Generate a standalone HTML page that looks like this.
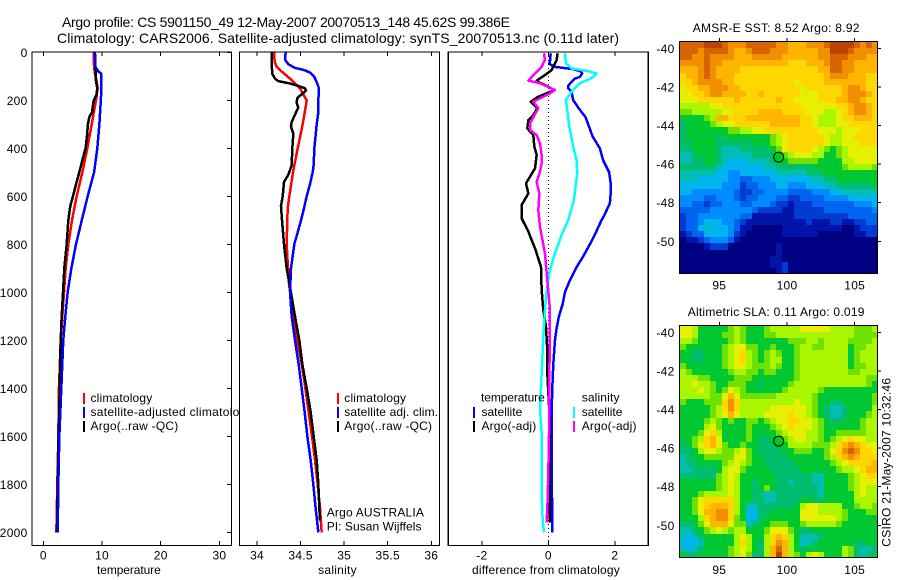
<!DOCTYPE html>
<html lang="en">
<head>
<meta charset="utf-8">
<title>Argo profile</title>
<style>
html,body{margin:0;padding:0;background:#fff;width:900px;height:580px;overflow:hidden}
svg{display:block}
text{font-family:"Liberation Sans",Arial,sans-serif;font-size:12px;letter-spacing:.25px;fill:#000}
.frame{fill:#fff;stroke:#000;stroke-width:1.3;shape-rendering:crispEdges}
.mapframe{fill:none;stroke:#000;stroke-width:1;shape-rendering:crispEdges}
</style>
</head>
<body>
<svg id="chart" xmlns="http://www.w3.org/2000/svg" width="900" height="580" viewBox="0 0 900 580">
  <text x="62" y="27" style="font-size:14px;letter-spacing:0" textLength="448" lengthAdjust="spacing">Argo profile: CS 5901150_49 12-May-2007 20070513_148 45.62S 99.386E</text>
  <text x="57" y="43" style="font-size:14px;letter-spacing:0" textLength="562" lengthAdjust="spacing">Climatology: CARS2006. Satellite-adjusted climatology: synTS_20070513.nc (0.11d later)</text>

  <g>
    <rect class="frame" x="32" y="52" width="199.5" height="493.5"/>
    <g id="p1-ticks"></g>
    <g id="p1-marks"></g>
    <g>
      <rect x="83" y="393" width="2" height="11" fill="#f00"/>
      <text x="90.5" y="402" textLength="62" lengthAdjust="spacing">climatology</text>
      <rect x="83" y="407" width="2" height="11" fill="#00f"/>
      <text x="90.5" y="416" style="letter-spacing:.3px">satellite-adjusted climatology</text>
      <rect x="83" y="421" width="2" height="11" fill="#000"/>
      <text x="90.5" y="430" textLength="88" lengthAdjust="spacing">Argo(..raw -QC)</text>
    </g>
    <text x="97" y="574" textLength="64" lengthAdjust="spacing">temperature</text>
  </g>

  <g>
    <rect class="frame" x="239.5" y="52" width="200" height="493.5"/>
    <g id="p2-ticks"></g>
    <g id="p2-marks"></g>
    <g>
      <rect x="337" y="393" width="2" height="11" fill="#f00"/>
      <text x="344.3" y="402" textLength="62" lengthAdjust="spacing">climatology</text>
      <rect x="337" y="407" width="2" height="11" fill="#00f"/>
      <text x="344.3" y="416" textLength="94" lengthAdjust="spacing">satellite adj. clim.</text>
      <rect x="337" y="421" width="2" height="11" fill="#000"/>
      <text x="344.3" y="430" textLength="88" lengthAdjust="spacing">Argo(..raw -QC)</text>
    </g>
    <text x="326.7" y="516.7" textLength="97.5" lengthAdjust="spacing">Argo AUSTRALIA</text>
    <text x="326.7" y="530.7" textLength="95" lengthAdjust="spacing">PI: Susan Wijffels</text>
    <text x="337.5" y="574" text-anchor="middle">salinity</text>
  </g>

  <g>
    <rect class="frame" x="448.3" y="52" width="200" height="493.5"/>
    <g id="p3-ticks"></g>
    <line x1="548.5" y1="52" x2="548.5" y2="545" stroke="#000" stroke-width="1" stroke-dasharray="1 3" shape-rendering="crispEdges"/>
    <g id="p3-marks"></g>
    <g>
      <text x="481" y="401.7" textLength="64" lengthAdjust="spacing">temperature</text>
      <rect x="473" y="407" width="2" height="11" fill="#00f"/>
      <text x="481.5" y="416" textLength="41" lengthAdjust="spacing">satellite</text>
      <rect x="473" y="421" width="2" height="11" fill="#000"/>
      <text x="481.5" y="430" textLength="55" lengthAdjust="spacing">Argo(-adj)</text>
      <text x="581.7" y="401.7" textLength="38" lengthAdjust="spacing">salinity</text>
      <rect x="573" y="407" width="2" height="11" fill="#0ff"/>
      <text x="581.7" y="416" textLength="41" lengthAdjust="spacing">satellite</text>
      <rect x="573" y="421" width="2" height="11" fill="#f0f"/>
      <text x="581.7" y="430" textLength="55" lengthAdjust="spacing">Argo(-adj)</text>
    </g>
    <text x="472" y="574" textLength="148" lengthAdjust="spacing">difference from climatology</text>
  </g>

  <g>
    <text x="692.7" y="32" textLength="167" lengthAdjust="spacing">AMSR-E SST: 8.52  Argo: 8.92</text>
    <g id="sst-cells"></g>
    <rect class="mapframe" x="679.5" y="41.5" width="198" height="232"/>
    <g id="sst-ticks"></g>
    <g id="sst-point"></g>
  </g>

  <g>
    <text x="687.7" y="316" textLength="177" lengthAdjust="spacing">Altimetric SLA: 0.11  Argo: 0.019</text>
    <g id="sla-cells"></g>
    <rect class="mapframe" x="679.5" y="325.5" width="198" height="232"/>
    <g id="sla-ticks"></g>
    <g id="sla-point"></g>
    <text transform="translate(890.7 546.7) rotate(-90)" textLength="169" lengthAdjust="spacing">CSIRO 21-May-2007 10:32:46</text>
  </g>
</svg>

<script>
/* ---------- axis tick labels ---------- */
const depthTicks = [0, 200, 400, 600, 800, 1000, 1200, 1400, 1600, 1800, 2000];
const temperatureTicks = [0, 10, 20, 30];
const salinityTicks = [34, 34.5, 35, 35.5, 36];
const salinityTickLabels = ['34', '34.5', '35', '35.5', '36'];
const differenceTicks = [-2, 0, 2];
const lonTicks = [95, 100, 105];
const latTicks = [-40, -42, -44, -46, -48, -50];

/* ---------- temperature profiles ---------- */
const tempClimDepth = [0, 40, 90, 120, 150, 200, 300, 400, 500, 600, 700, 800, 900, 1000, 1200, 1400, 1600, 1800, 2000];
const tempClimValues = [8.58, 8.58, 8.8, 9.09, 9.26, 8.98, 8.24, 7.5, 6.65, 5.68, 4.89, 4.26, 3.81, 3.53, 2.96, 2.67, 2.56, 2.39, 2.22];
const tempSatDepth = [0, 60, 80, 90, 150, 200, 300, 400, 500, 600, 700, 800, 900, 1000, 1100, 1200, 1400, 1600, 1800, 2000];
const tempSatValues = [8.75, 8.87, 9.4, 9.9, 9.9, 9.8, 9.55, 9.2, 8.65, 7.56, 6.55, 5.57, 4.78, 4.15, 3.75, 3.4, 3.07, 2.73, 2.56, 2.45];
const tempArgoDepth = [0, 80, 120, 150, 180, 200, 250, 270, 300, 350, 400, 450, 500, 550, 600, 640, 700, 800, 900, 1000, 1100, 1200, 1400, 1600, 1800, 2000];
const tempArgoValues = [8.8, 8.9, 8.98, 9.2, 9.03, 8.58, 8.3, 7.84, 7.6, 7.44, 7.2, 6.65, 6.13, 5.57, 5.05, 4.6, 4.26, 3.98, 3.58, 3.36, 3.13, 2.96, 2.8, 2.6, 2.45, 2.33];

/* ---------- salinity profiles ---------- */
const salClimDepth = [0, 40, 60, 80, 110, 130, 150, 180, 200, 220, 300, 400, 500, 600, 650, 800, 900, 950, 1000, 1100, 1200, 1300, 1400, 1500, 1600, 1700, 1800, 1900, 2000];
const salClimValues = [34.195, 34.203, 34.226, 34.283, 34.379, 34.436, 34.493, 34.539, 34.57, 34.562, 34.524, 34.467, 34.413, 34.371, 34.352, 34.34, 34.356, 34.363, 34.379, 34.417, 34.463, 34.513, 34.555, 34.593, 34.631, 34.666, 34.696, 34.723, 34.742];
const salSatDepth = [0, 30, 50, 65, 75, 85, 100, 130, 150, 200, 250, 300, 400, 470, 500, 550, 600, 650, 700, 750, 800, 850, 900, 1000, 1100, 1200, 1300, 1400, 1500, 1600, 1700, 1800, 1900, 2000];
const salSatValues = [34.329, 34.321, 34.36, 34.436, 34.551, 34.608, 34.654, 34.692, 34.711, 34.704, 34.704, 34.685, 34.658, 34.65, 34.639, 34.608, 34.57, 34.539, 34.505, 34.467, 34.428, 34.409, 34.39, 34.379, 34.398, 34.436, 34.478, 34.513, 34.547, 34.578, 34.616, 34.646, 34.673, 34.704];
const salArgoDepth = [0, 50, 90, 110, 120, 130, 140, 150, 160, 175, 190, 210, 230, 260, 290, 310, 340, 400, 470, 510, 540, 600, 640, 700, 800, 900, 1000, 1100, 1200, 1300, 1400, 1500, 1600, 1700, 1800, 1900, 1950];
const salArgoValues = [34.168, 34.168, 34.176, 34.207, 34.245, 34.379, 34.474, 34.551, 34.562, 34.513, 34.463, 34.455, 34.474, 34.436, 34.398, 34.39, 34.417, 34.405, 34.398, 34.36, 34.31, 34.295, 34.275, 34.287, 34.31, 34.34, 34.39, 34.436, 34.486, 34.52, 34.57, 34.616, 34.65, 34.685, 34.704, 34.715, 34.723];

/* ---------- differences from climatology ---------- */
const diffTempSatDepth = [4, 32, 46, 60, 70, 78, 88, 102, 110, 127, 140, 150, 165, 180, 200, 240, 270, 300, 350, 400, 450, 500, 550, 600, 630, 680, 700, 760, 800, 850, 900, 950, 1000, 1050, 1100, 1150, 1200, 1300, 1400, 1500, 1600, 1800, 1900, 2000];
const diffTempSatValues = [0.07, 0.06, 0.03, 0.15, 0.75, 0.95, 1.02, 0.95, 0.8, 0.67, 0.6, 0.6, 0.7, 0.72, 0.75, 0.95, 1.12, 1.2, 1.33, 1.55, 1.65, 1.83, 1.88, 1.87, 1.85, 1.68, 1.6, 1.4, 1.25, 1.05, 0.83, 0.65, 0.5, 0.43, 0.32, 0.25, 0.2, 0.15, 0.12, 0.1, 0.1, 0.1, 0.12, 0.12];
const diffTempArgoDepth = [4, 32, 74, 95, 118, 127, 157, 171, 185, 206, 233, 261, 282, 317, 345, 393, 428, 484, 518, 546, 588, 636, 692, 747, 817, 893, 990, 1074, 1143, 1240, 1337, 1546, 1720, 1912, 1960];
const diffTempArgoValues = [0.28, 0.25, 0.1, -0.1, -0.35, -0.25, 0.2, -0.05, -0.3, -0.53, -0.33, -0.45, -0.6, -0.63, -0.45, -0.42, -0.35, -0.4, -0.55, -0.67, -0.6, -0.8, -0.8, -0.6, -0.4, -0.22, -0.2, -0.15, -0.07, -0.03, -0.03, 0.05, 0.05, 0.05, 0.05];
const diffSalSatDepth = [4, 46, 67, 77, 88, 108, 129, 164, 199, 240, 310, 393, 449, 504, 616, 699, 761, 838, 907, 990, 1074, 1185, 1337, 1490, 1587, 1837, 1950, 2000];
const diffSalSatValues = [0.5, 0.53, 0.7, 1.15, 1.45, 1.3, 0.95, 0.7, 0.53, 0.57, 0.63, 0.75, 0.85, 0.87, 0.77, 0.6, 0.4, 0.2, 0.05, -0.05, -0.1, -0.15, -0.2, -0.25, -0.2, -0.2, -0.17, -0.13];
const diffSalArgoDepth = [4, 32, 60, 88, 118, 129, 157, 171, 206, 233, 296, 324, 345, 379, 428, 463, 497, 539, 588, 657, 727, 838, 949, 1074, 1200, 1337, 1532, 1754, 1866, 1960];
const diffSalArgoValues = [-0.13, -0.1, -0.2, -0.4, -0.6, -0.25, 0.2, 0.05, -0.45, -0.3, -0.55, -0.55, -0.35, -0.25, -0.2, -0.2, -0.25, -0.35, -0.27, -0.3, -0.25, -0.1, -0.03, 0.05, 0.05, 0.03, 0.03, 0, -0.02, -0.05];

/* ---------- float position ---------- */
const floatLon = [99.386];
const floatLat = [-45.62];

/* ---------- map fields, in colour-scale levels 0..16, north to south ---------- */
const sstLevels = [
[15,15,15,15,16,16,16,15,14,14,14,15,15,15,15,15,14,14,13,13,13,14,14,14,15,16,16,16,16,15,14,15,14],
[15,15,15,14,15,15,15,15,14,13,13,14,15,15,15,14,14,14,13,13,13,13,13,14,14,16,16,16,15,14,14,14,14],
[15,15,14,14,15,14,14,14,14,13,13,13,14,14,14,14,14,13,13,13,13,13,13,14,14,15,15,15,14,14,14,13,13],
[14,14,14,14,15,14,14,13,13,13,13,13,13,13,13,13,13,13,12,12,12,13,13,13,14,15,15,14,14,13,13,13,13],
[13,13,13,14,15,14,13,13,13,13,12,12,12,12,12,12,12,12,12,12,12,12,12,13,13,15,15,14,14,13,13,13,13],
[12,13,13,14,15,14,13,13,13,12,12,12,12,12,12,12,12,12,12,12,12,12,12,12,13,14,14,14,13,13,13,12,12],
[12,12,13,14,14,14,14,13,13,12,12,12,12,12,12,12,12,12,12,11,12,12,12,12,13,13,13,13,13,13,13,12,12],
[11,12,12,13,13,14,14,14,13,13,12,12,12,12,12,12,12,12,12,12,11,12,12,12,12,12,12,13,14,14,13,12,12],
[11,11,12,12,13,14,14,13,13,13,13,12,12,13,12,12,12,12,12,12,11,11,11,12,12,12,12,13,14,14,14,13,12],
[11,11,11,12,12,12,12,12,12,13,12,12,12,12,12,12,13,12,12,11,11,11,11,12,12,12,13,13,14,14,13,12,12],
[10,10,10,10,10,11,11,12,12,12,12,12,12,12,12,12,12,12,12,12,11,11,11,11,11,11,12,12,13,14,14,13,12],
[9,9,10,10,10,10,10,11,11,12,12,12,12,13,13,13,13,12,12,12,12,11,11,11,10,10,11,12,13,14,14,13,12],
[8,8,8,8,9,10,13,13,12,12,12,13,13,13,13,13,13,13,13,13,12,12,11,10,10,10,11,12,12,13,13,13,12],
[7,8,8,8,8,9,10,11,11,12,12,12,12,12,12,13,13,13,13,13,12,12,11,10,10,10,11,11,12,12,12,12,12],
[7,8,8,8,8,8,8,8,9,9,10,10,11,11,12,12,12,12,12,12,12,12,12,11,11,11,10,11,11,11,12,12,12],
[7,8,8,8,8,8,7,8,8,8,8,8,8,8,8,9,10,11,12,12,12,12,12,12,11,10,10,11,11,12,12,12,12],
[7,7,8,8,8,8,7,7,7,7,7,7,8,8,8,9,10,11,12,12,12,12,12,12,11,10,10,11,11,11,12,12,12],
[7,7,8,8,8,8,7,6,6,6,7,7,7,7,7,8,9,11,12,12,12,12,11,10,9,8,9,10,11,11,11,11,11],
[6,6,7,8,8,8,7,6,6,6,6,6,7,7,7,7,8,9,10,11,11,11,10,10,8,8,9,10,11,11,11,11,11],
[6,6,7,7,8,8,7,6,5,5,5,6,6,6,6,7,7,8,9,9,9,9,9,8,8,8,8,10,10,11,11,11,11],
[7,7,7,7,7,7,6,5,5,5,5,5,5,5,6,6,7,7,7,7,7,7,8,8,8,8,8,9,10,10,10,10,9],
[6,6,6,6,6,6,5,5,4,4,5,5,5,5,5,5,6,6,6,6,6,7,7,7,8,8,8,8,8,8,8,8,8],
[6,6,6,5,5,5,5,5,4,4,3,3,4,4,4,5,5,5,5,5,5,5,6,6,7,7,8,8,8,8,8,8,8],
[5,5,5,5,5,5,5,4,4,4,2,3,3,4,4,4,5,5,4,4,4,5,5,5,6,6,7,7,7,7,7,7,8],
[5,5,4,4,4,4,4,4,4,3,2,2,3,3,4,4,4,4,3,3,3,3,4,4,4,5,5,6,6,6,6,6,6],
[4,4,4,4,3,3,4,4,4,3,2,3,3,4,4,4,3,3,2,2,3,3,3,3,4,4,4,4,5,5,5,5,5],
[4,4,3,3,2,3,3,4,4,4,3,3,4,4,4,3,2,2,1,2,2,2,3,3,3,3,3,3,3,4,4,4,5],
[3,3,3,3,3,4,4,4,4,4,4,4,3,2,2,2,2,1,1,2,2,2,2,2,3,3,3,3,3,3,3,3,4],
[2,3,3,4,4,4,4,4,4,4,3,3,1,1,1,1,1,1,1,2,2,2,2,2,2,2,2,2,3,3,3,3,3],
[2,3,3,4,5,5,5,4,4,3,2,1,1,1,1,1,1,1,1,1,1,2,1,1,1,2,2,1,1,2,2,3,3],
[2,3,3,5,6,5,5,5,4,3,1,1,0,0,0,0,0,1,1,1,1,1,1,1,1,1,1,0,0,1,2,2,2],
[1,2,3,3,5,5,5,5,4,2,1,0,0,0,0,0,0,1,1,1,1,1,1,0,0,0,0,0,0,1,1,2,2],
[0,1,1,2,3,4,4,4,3,1,0,0,0,0,0,0,0,0,0,0,0,0,0,0,0,0,0,0,0,0,0,0,0],
[0,0,0,0,1,2,2,2,0,0,0,0,0,0,0,0,1,0,0,0,0,0,0,0,0,0,0,0,0,0,0,0,0],
[0,0,0,0,0,0,0,0,0,0,0,0,0,0,0,0,1,0,0,0,0,0,0,0,0,0,0,0,0,0,0,0,0],
[0,0,0,0,0,0,0,0,0,0,0,0,0,0,0,1,1,0,0,0,0,0,0,0,0,0,0,0,0,0,0,0,0],
[0,0,0,0,0,0,0,0,0,0,0,0,0,0,0,1,1,2,0,0,0,0,0,0,0,0,0,0,0,0,0,0,0],
[0,0,0,0,0,0,0,0,0,0,0,0,0,0,0,0,1,2,0,0,0,0,0,0,0,0,0,0,0,0,0,0,0]
];
const slaLevels = [
[11,11,10,8,8,8,8,8,9,10,9,8,8,8,9,10,10,10,10,10,11,11,11,11,11,10,10,10,10,9,9,9,10],
[11,11,10,8,8,8,8,9,9,10,9,8,8,8,9,9,10,10,10,10,10,10,10,10,10,10,10,10,10,9,9,9,9],
[10,10,9,8,8,8,8,8,9,10,9,8,8,8,8,8,8,8,9,9,9,10,10,9,10,10,10,10,9,9,9,9,10],
[9,8,8,8,8,8,8,9,10,11,11,9,9,8,8,9,8,8,8,9,10,10,9,9,10,10,10,10,8,9,9,10,10],
[8,8,7,7,8,8,8,9,10,11,12,10,9,8,9,10,9,8,8,9,10,10,10,10,10,10,10,10,8,9,10,10,10],
[8,8,7,7,8,8,8,9,10,11,12,10,9,8,9,10,10,8,8,9,10,10,10,10,10,10,10,10,8,9,10,10,10],
[9,8,8,8,8,8,8,9,10,11,11,10,9,9,9,10,9,8,8,9,10,10,10,10,10,10,10,10,8,9,9,10,10],
[10,9,8,8,8,8,8,8,9,10,10,9,9,8,9,9,8,8,8,9,10,10,10,10,10,10,10,10,9,9,10,10,10],
[10,10,10,9,9,8,8,8,8,9,9,9,8,8,8,8,8,8,8,9,10,10,10,10,10,10,10,10,10,10,10,9,9],
[10,10,11,10,10,9,8,8,9,9,9,8,8,7,8,8,8,8,9,10,10,10,10,10,10,10,10,10,10,10,10,9,8],
[10,10,10,11,10,9,8,9,11,10,9,8,8,8,8,8,8,9,10,10,10,10,10,9,8,8,8,8,8,8,8,8,8],
[10,10,10,10,10,9,9,11,13,11,9,9,9,9,9,9,10,10,10,10,10,10,9,8,8,8,8,8,8,8,8,8,9],
[9,8,8,8,9,9,9,12,14,12,10,10,10,10,10,10,10,10,10,11,10,10,9,8,8,7,7,8,8,8,8,8,9],
[8,8,8,8,8,9,10,12,14,12,10,10,10,10,10,11,11,11,11,11,11,10,9,8,7,6,6,7,8,8,8,8,10],
[8,8,8,8,8,9,10,11,13,11,10,10,10,10,11,11,11,11,12,11,11,10,9,8,7,6,6,7,8,8,8,9,10],
[8,8,8,8,9,10,9,8,9,8,8,9,9,8,9,10,11,11,12,12,11,11,10,9,8,7,7,8,8,8,9,10,10],
[8,8,8,8,10,11,9,8,8,8,8,9,8,8,8,9,10,11,12,11,11,11,10,9,8,8,8,8,8,8,9,10,10],
[8,8,8,9,11,12,10,8,8,8,8,9,8,8,8,8,9,10,11,11,11,10,10,9,8,8,9,9,9,9,9,10,10],
[8,8,9,10,12,13,11,8,8,8,8,9,8,7,7,8,8,9,10,11,11,10,10,9,8,9,10,11,12,11,11,10,10],
[7,8,9,11,12,13,11,9,8,8,9,8,8,7,7,7,8,8,10,10,10,10,9,9,9,10,12,13,14,13,12,11,11],
[7,7,8,10,11,11,10,9,9,10,11,9,8,7,7,7,7,8,8,9,9,9,8,8,9,11,12,14,15,14,12,12,11],
[6,7,8,8,9,9,9,9,9,11,11,9,8,8,7,7,7,7,8,8,8,8,8,8,9,10,12,13,14,13,12,12,12],
[6,7,7,8,8,8,8,9,10,11,10,9,8,8,7,7,7,7,7,8,8,8,8,8,8,9,10,11,12,12,12,12,13],
[6,6,7,7,7,7,8,10,11,11,9,8,8,8,8,7,7,7,7,7,8,8,8,8,8,8,9,10,10,11,12,13,13],
[7,7,7,7,7,7,9,10,11,10,8,8,8,8,8,8,7,7,7,7,7,7,6,6,8,8,8,8,9,10,11,12,12],
[8,8,8,8,8,8,9,10,11,10,8,8,7,8,8,8,7,7,6,7,7,7,6,6,8,8,8,8,9,10,11,11,11],
[8,8,8,8,8,8,9,10,11,10,8,8,7,8,9,8,7,7,7,7,7,7,7,6,8,8,8,8,9,10,11,10,10],
[8,8,8,9,10,10,10,10,11,10,8,8,7,7,6,6,7,7,7,7,7,7,7,6,8,8,8,8,8,10,11,10,10],
[8,8,9,11,12,12,12,12,12,10,8,8,7,7,6,6,7,7,7,7,8,8,7,7,8,8,8,8,8,10,10,10,10],
[8,8,9,11,12,13,13,13,12,10,8,6,6,7,7,7,7,7,7,8,10,11,11,10,10,10,10,8,8,9,10,10,9],
[8,8,9,11,13,13,14,14,12,10,8,5,5,7,7,8,8,8,8,8,11,11,11,10,10,10,10,9,8,8,8,9,9],
[8,8,8,10,12,13,14,14,12,9,8,5,5,7,8,8,8,8,8,8,11,11,11,11,11,11,10,9,8,8,8,8,8],
[7,7,8,9,11,13,13,13,11,9,9,6,7,8,8,9,9,9,8,8,9,10,10,10,10,10,9,8,8,8,8,8,8],
[6,6,7,8,9,10,11,10,9,10,10,8,8,8,9,11,11,11,9,8,7,7,8,8,8,8,8,8,8,8,8,8,8],
[6,5,6,7,8,8,8,8,8,10,11,10,8,8,10,12,13,12,10,8,6,6,6,7,8,8,8,8,8,8,8,8,8],
[5,5,5,6,8,8,8,8,8,10,12,10,8,7,10,12,14,13,10,8,6,6,7,8,8,8,8,8,8,7,7,8,8],
[6,5,6,7,8,8,8,8,9,10,11,10,8,7,10,13,15,13,10,8,7,8,8,8,8,8,8,10,9,7,6,6,7],
[8,7,7,8,8,8,8,8,9,10,11,9,7,7,10,13,16,13,10,9,8,10,11,10,8,8,8,10,9,7,6,7,8]
];

/* ---------- colour scale ---------- */
const paletteRGB = ['#000082','#0014aa','#003cd2','#0064f0','#008cff','#00b4f0','#00beb4','#00be6e','#00c832','#6ee100','#aaf500','#e6f000','#ffd700','#ffb400','#f09000','#d86400','#bb4400'];

/* ---------- axis functions ---------- */
const SVGNS = 'http://www.w3.org/2000/svg';
const depthY = d => 52.3 + d * 0.24;
const tempX = t => 43.3 + 5.87 * t;
const salX = s => 257 + 87.15 * (s - 34);
const diffX = v => 548.3 + 33.25 * v;
const lonX = lon => 719.3 + (lon - 95) * 13.54;
const latY1 = lat => 48.3 + (-40 - lat) * 19.3;
const latY2 = lat => 332.3 + (-40 - lat) * 19.3;

function make(tag, parent, attrs) {
  const el = document.createElementNS(SVGNS, tag);
  for (const k in attrs) el.setAttribute(k, attrs[k]);
  parent.appendChild(el);
  return el;
}
function tick(parent, name, x1, y1, x2, y2) {
  const el = make('line', parent, {x1: x1, y1: y1, x2: x2, y2: y2, stroke: '#000', 'stroke-width': 1, 'shape-rendering': 'crispEdges'});
  
  
}
function label(parent, name, x, y, anchor, str) {
  const el = make('text', parent, {x: x, y: y, 'text-anchor': anchor});
  el.textContent = str;
  
  
}
function drawLine(parent, name, xFn, depths, values, color) {
  const pts = values.map((v, i) => xFn(v).toFixed(2) + ',' + depthY(depths[i]).toFixed(2)).join(' ');
  const el = make('polyline', parent, {points: pts, fill: 'none', stroke: color, 'stroke-width': 2.5, 'stroke-linejoin': 'round', 'shape-rendering': 'crispEdges'});
  
  
}
function xTicks(groupId, prefix, ticks, labels, xFn) {
  const g = document.getElementById(groupId);
  ticks.forEach((t, i) => {
    const x = xFn(t);
    tick(g, prefix + '-tick-bottom', x, 545, x, 541);
    tick(g, prefix + '-tick-top', x, 52, x, 56);
    label(g, prefix + '-tick-label', x, 559.7, 'middle', labels[i]);
  });
}

/* profile panel ticks */
xTicks('p1-ticks', 'temperature', temperatureTicks, temperatureTicks.map(String), tempX);
xTicks('p2-ticks', 'salinity', salinityTicks, salinityTickLabels, salX);
xTicks('p3-ticks', 'difference', differenceTicks, differenceTicks.map(String), diffX);
const p1t = document.getElementById('p1-ticks');
depthTicks.forEach(d => {
  tick(p1t, 'depth-tick-right', 231, depthY(d), 227, depthY(d));
  label(p1t, 'depth-tick-label', 27.5, depthY(d) + 4.5, 'end', String(d));
});

/* profile lines */
const p1 = document.getElementById('p1-marks');
drawLine(p1, 'temperature-climatology-line', tempX, tempClimDepth, tempClimValues, '#f00');
drawLine(p1, 'temperature-argo-line', tempX, tempArgoDepth, tempArgoValues, '#000');
drawLine(p1, 'temperature-satellite-line', tempX, tempSatDepth, tempSatValues, '#00f');
const p2 = document.getElementById('p2-marks');
drawLine(p2, 'salinity-climatology-line', salX, salClimDepth, salClimValues, '#f00');
drawLine(p2, 'salinity-argo-line', salX, salArgoDepth, salArgoValues, '#000');
drawLine(p2, 'salinity-satellite-line', salX, salSatDepth, salSatValues, '#00f');
const p3 = document.getElementById('p3-marks');
drawLine(p3, 'difference-temperature-satellite-line', diffX, diffTempSatDepth, diffTempSatValues, '#00f');
drawLine(p3, 'difference-temperature-argo-line', diffX, diffTempArgoDepth, diffTempArgoValues, '#000');
drawLine(p3, 'difference-salinity-satellite-line', diffX, diffSalSatDepth, diffSalSatValues, '#0ff');
drawLine(p3, 'difference-salinity-argo-line', diffX, diffSalArgoDepth, diffSalArgoValues, '#f0f');

/* heatmaps */
function drawField(groupId, name, levels, top) {
  const g = document.getElementById(groupId);
  const rows = levels.length;
  levels.forEach((row, r) => {
    const cols = row.length;
    row.forEach((v, c) => {
      const x0 = Math.round(680 + c * 198 / cols), x1 = Math.round(680 + (c + 1) * 198 / cols);
      const y0 = Math.round(top + r * 232 / rows), y1 = Math.round(top + (r + 1) * 232 / rows);
      const idx = Math.max(0, Math.min(paletteRGB.length - 1, Math.round(v)));
      const cell = make('rect', g, {x: x0, y: y0, width: x1 - x0, height: y1 - y0, fill: paletteRGB[idx], 'shape-rendering': 'crispEdges'});
      
      
    });
  });
}
drawField('sst-cells', 'sst-cell', sstLevels, 42);
drawField('sla-cells', 'sla-cell', slaLevels, 326);

/* map ticks */
function mapTicks(groupId, prefix, top, latFn, lonLabelY) {
  const g = document.getElementById(groupId);
  lonTicks.forEach(lon => {
    tick(g, prefix + '-lon-tick', lonX(lon), top, lonX(lon), top - 3);
    label(g, prefix + '-lon-label', lonX(lon), lonLabelY, 'middle', String(lon));
  });
  latTicks.forEach(lat => {
    tick(g, prefix + '-lat-tick', 878, latFn(lat), 881, latFn(lat));
    label(g, prefix + '-lat-label', 674.5, latFn(lat) + 4.5, 'end', String(lat));
  });
}
mapTicks('sst-ticks', 'sst', 41, latY1, 289.3);
mapTicks('sla-ticks', 'sla', 325, latY2, 574);

/* float markers */
const m1 = make('circle', document.getElementById('sst-point'), {cx: lonX(floatLon[0]), cy: latY1(floatLat[0]) + 0.3, r: 5, fill: '#00c81e', stroke: '#000', 'stroke-width': 1});


const m2 = make('circle', document.getElementById('sla-point'), {cx: lonX(floatLon[0]), cy: latY2(floatLat[0]) + 0.3, r: 5, fill: '#00c81e', stroke: '#000', 'stroke-width': 1});


</script>
</body>
</html>
